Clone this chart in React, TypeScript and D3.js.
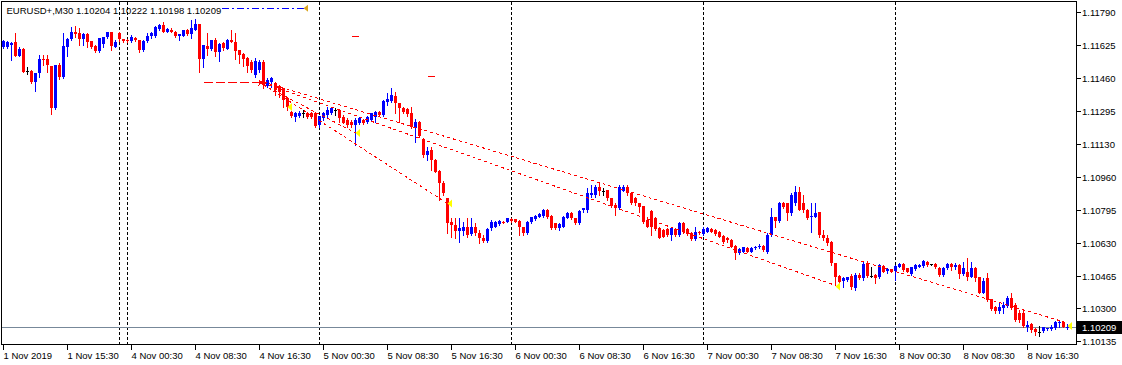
import React from "react";
import * as d3 from "d3";

// EURUSD+ M30, one value per bar (bar 0 = 1 Nov 07:30)
const opens = [
  1.11613, 1.11617, 1.11625, 1.11639, 1.11572, 1.11605, 1.11495, 1.11496, 1.11437, 1.11483,
  1.11555, 1.11555, 1.1152, 1.1131, 1.11525, 1.11463, 1.11617, 1.11654, 1.11689, 1.11684,
  1.11655, 1.11681, 1.11645, 1.1162, 1.11597, 1.11629, 1.11667, 1.11689, 1.11617, 1.11684,
  1.11655, 1.1165, 1.11647, 1.11659, 1.1165, 1.116, 1.11647, 1.11672, 1.11672, 1.11706,
  1.11726, 1.11692, 1.11701, 1.11692, 1.11672, 1.11672, 1.11701, 1.11681, 1.11701, 1.11731,
  1.11555, 1.11622, 1.11605, 1.1165, 1.11588, 1.11637, 1.11605, 1.1165, 1.11642, 1.116,
  1.11578, 1.1156, 1.1154, 1.11475, 1.115, 1.1154, 1.11419, 1.1144, 1.11435, 1.11419,
  1.11409, 1.11359, 1.11289, 1.11265, 1.1127, 1.11282, 1.11282, 1.11285, 1.11282, 1.11223,
  1.11257, 1.11273, 1.11282, 1.11299, 1.11299, 1.11265, 1.11248, 1.1124, 1.11223, 1.11232,
  1.11248, 1.1124, 1.11248, 1.11265, 1.1129, 1.11273, 1.1134, 1.11345, 1.11371, 1.11332,
  1.1131, 1.11302, 1.11285, 1.11207, 1.1124, 1.11153, 1.11072, 1.11097, 1.11047, 1.10993,
  1.10933, 1.10856, 1.10737, 1.1072, 1.10691, 1.10691, 1.10712, 1.10675, 1.10712, 1.10678,
  1.10653, 1.10641, 1.10703, 1.10712, 1.10725, 1.10737, 1.10737, 1.10748, 1.10748, 1.10742,
  1.10712, 1.10678, 1.10737, 1.1075, 1.10762, 1.10765, 1.10795, 1.10765, 1.10728, 1.10703,
  1.10712, 1.10757, 1.10782, 1.10753, 1.10728, 1.10795, 1.10795, 1.10871, 1.10871, 1.1091,
  1.10893, 1.10896, 1.10854, 1.10821, 1.10804, 1.10893, 1.1091, 1.10883, 1.10854, 1.10829,
  1.10816, 1.10745, 1.10792, 1.10754, 1.10704, 1.10695, 1.10699, 1.1067, 1.10699, 1.1067,
  1.10732, 1.10699, 1.10682, 1.10648, 1.10687, 1.10675, 1.10687, 1.10699, 1.10695, 1.10687,
  1.10665, 1.10653, 1.10645, 1.10615, 1.10581, 1.10586, 1.10603, 1.10586, 1.10603, 1.10608,
  1.10615, 1.10586, 1.1067, 1.10759, 1.10742, 1.10833, 1.10833, 1.10779, 1.10829, 1.10888,
  1.10829, 1.10796, 1.10759, 1.10762, 1.10787, 1.1067, 1.10653, 1.10636, 1.10527, 1.10464,
  1.1044, 1.10444, 1.10464, 1.10402, 1.10469, 1.10452, 1.10527, 1.10464, 1.10469, 1.1046,
  1.10516, 1.10491, 1.10497, 1.10491, 1.10511, 1.10524, 1.10502, 1.10474, 1.10497, 1.10511,
  1.10514, 1.10536, 1.10522, 1.10524, 1.10506, 1.10469, 1.10502, 1.10524, 1.10507, 1.10519,
  1.10474, 1.10486, 1.1046, 1.10506, 1.1046, 1.1038, 1.10452, 1.10346, 1.10306, 1.10289,
  1.10301, 1.10313, 1.10351, 1.10318, 1.10279, 1.10279, 1.10209, 1.10222, 1.10196, 1.10184,
  1.10189, 1.10196, 1.10196, 1.10201, 1.10226, 1.10234, 1.10204,
];
const highs = [
  1.1165, 1.11645, 1.11642, 1.11684, 1.11617, 1.11608, 1.11516, 1.115, 1.11485, 1.11575,
  1.11575, 1.11575, 1.11522, 1.11527, 1.11533, 1.11684, 1.11659, 1.11717, 1.11721, 1.11709,
  1.11684, 1.11684, 1.11645, 1.11625, 1.11659, 1.11667, 1.11692, 1.11692, 1.1165, 1.11689,
  1.11656, 1.11655, 1.11676, 1.11664, 1.1165, 1.1165, 1.11684, 1.11689, 1.11721, 1.11731,
  1.11743, 1.11709, 1.11709, 1.11696, 1.11681, 1.11701, 1.11706, 1.11751, 1.11755, 1.11731,
  1.11625, 1.11684, 1.1165, 1.11659, 1.11634, 1.11642, 1.11654, 1.11701, 1.11684, 1.116,
  1.11583, 1.11567, 1.1155, 1.1156, 1.1155, 1.1155, 1.1146, 1.11465, 1.1144, 1.11424,
  1.11409, 1.11364, 1.11294, 1.1129, 1.11295, 1.11299, 1.1129, 1.1129, 1.1129, 1.1127,
  1.1129, 1.11314, 1.11314, 1.11307, 1.11302, 1.11273, 1.11257, 1.11248, 1.11257, 1.11262,
  1.11252, 1.1127, 1.11285, 1.11294, 1.11294, 1.11349, 1.11382, 1.11407, 1.11391, 1.11332,
  1.11315, 1.1131, 1.11315, 1.11253, 1.11245, 1.1116, 1.11113, 1.11113, 1.1105, 1.10997,
  1.1094, 1.10856, 1.10756, 1.10753, 1.10753, 1.10737, 1.10753, 1.10753, 1.10728, 1.10695,
  1.1067, 1.10703, 1.10745, 1.1074, 1.10745, 1.10742, 1.10756, 1.10753, 1.1075, 1.10745,
  1.10712, 1.1074, 1.10762, 1.1077, 1.10778, 1.108, 1.108, 1.10768, 1.10732, 1.10728,
  1.10765, 1.10785, 1.10787, 1.10756, 1.10795, 1.10807, 1.10904, 1.10921, 1.10921, 1.1093,
  1.10905, 1.10896, 1.10854, 1.10829, 1.10922, 1.10922, 1.10922, 1.10888, 1.10863, 1.10829,
  1.10816, 1.10762, 1.10796, 1.10762, 1.10709, 1.10699, 1.10704, 1.10712, 1.10704, 1.10737,
  1.10737, 1.10704, 1.10687, 1.10712, 1.10692, 1.10712, 1.10709, 1.10704, 1.10699, 1.10692,
  1.1067, 1.10662, 1.10648, 1.1062, 1.10603, 1.10611, 1.10608, 1.10608, 1.10615, 1.10625,
  1.1062, 1.10678, 1.10804, 1.10762, 1.10838, 1.10838, 1.10833, 1.1088, 1.10917, 1.10913,
  1.10871, 1.10799, 1.10829, 1.10829, 1.10787, 1.10695, 1.1067, 1.10641, 1.10527, 1.10469,
  1.1046, 1.1046, 1.10474, 1.10477, 1.10477, 1.10536, 1.10541, 1.10511, 1.10474, 1.10524,
  1.1052, 1.10502, 1.105, 1.10519, 1.10528, 1.10527, 1.10505, 1.10511, 1.10522, 1.10524,
  1.10545, 1.1054, 1.10525, 1.10527, 1.10508, 1.10508, 1.10531, 1.10531, 1.10531, 1.10522,
  1.10536, 1.10553, 1.10536, 1.10511, 1.1046, 1.10452, 1.10477, 1.10346, 1.10313, 1.10335,
  1.10335, 1.10363, 1.10377, 1.10326, 1.10293, 1.10293, 1.10239, 1.10226, 1.10201, 1.10212,
  1.10209, 1.10204, 1.10217, 1.10237, 1.10239, 1.10237, 1.10222,
];
const lows = [
  1.11608, 1.11612, 1.1155, 1.1157, 1.1157, 1.11488, 1.11478, 1.11435, 1.11395, 1.11466,
  1.11525, 1.11491, 1.11278, 1.11305, 1.11455, 1.1146, 1.11572, 1.1165, 1.11667, 1.11625,
  1.11625, 1.11617, 1.11608, 1.11588, 1.11588, 1.11617, 1.11659, 1.116, 1.11617, 1.11647,
  1.11642, 1.1164, 1.11642, 1.11647, 1.11592, 1.11597, 1.11642, 1.11659, 1.11667, 1.11701,
  1.11689, 1.11689, 1.11689, 1.11667, 1.1165, 1.11672, 1.11676, 1.11659, 1.11701, 1.11491,
  1.11516, 1.11575, 1.116, 1.1157, 1.11546, 1.116, 1.11605, 1.11642, 1.11555, 1.11533,
  1.11521, 1.11491, 1.1149, 1.11465, 1.1149, 1.11409, 1.11414, 1.11414, 1.11374, 1.11364,
  1.11314, 1.11299, 1.11263, 1.11245, 1.11265, 1.11265, 1.1126, 1.11258, 1.11215, 1.11213,
  1.11248, 1.11265, 1.11278, 1.11273, 1.1124, 1.11232, 1.11215, 1.11215, 1.11123, 1.11228,
  1.11228, 1.11235, 1.11245, 1.1124, 1.11268, 1.11268, 1.11324, 1.1134, 1.11282, 1.1124,
  1.11282, 1.11268, 1.11206, 1.11139, 1.11165, 1.11064, 1.11047, 1.10997, 1.10985, 1.10846,
  1.10871, 1.10681, 1.10661, 1.10653, 1.10636, 1.1067, 1.10661, 1.1067, 1.1067, 1.10631,
  1.10636, 1.10636, 1.10695, 1.10708, 1.1072, 1.10728, 1.10733, 1.10737, 1.10733, 1.1067,
  1.1067, 1.10675, 1.10732, 1.10745, 1.1076, 1.10762, 1.10755, 1.107, 1.107, 1.10695,
  1.10708, 1.10753, 1.1075, 1.10725, 1.10725, 1.10787, 1.10787, 1.10862, 1.10862, 1.10871,
  1.10871, 1.10846, 1.10813, 1.10771, 1.10799, 1.10893, 1.10871, 1.10826, 1.10821, 1.10787,
  1.10732, 1.10709, 1.1067, 1.10695, 1.10653, 1.10658, 1.10665, 1.10645, 1.10665, 1.10665,
  1.10678, 1.1067, 1.10645, 1.10645, 1.10675, 1.1067, 1.10683, 1.10683, 1.1067, 1.10658,
  1.10632, 1.10636, 1.10608, 1.10548, 1.10576, 1.10583, 1.10583, 1.10583, 1.10598, 1.10603,
  1.1059, 1.10581, 1.10665, 1.10712, 1.10737, 1.10804, 1.10745, 1.10771, 1.10821, 1.10796,
  1.10787, 1.1075, 1.10687, 1.10762, 1.10662, 1.10645, 1.1062, 1.10519, 1.10418, 1.1043,
  1.1041, 1.1044, 1.10398, 1.10393, 1.1045, 1.10444, 1.1046, 1.1046, 1.10427, 1.10455,
  1.10482, 1.10477, 1.10482, 1.10444, 1.10508, 1.1049, 1.10482, 1.10469, 1.10494, 1.10508,
  1.10511, 1.10516, 1.10519, 1.10504, 1.10466, 1.10466, 1.10497, 1.10494, 1.10497, 1.10452,
  1.10469, 1.10444, 1.10457, 1.1044, 1.10377, 1.10377, 1.1034, 1.10293, 1.10279, 1.10279,
  1.10279, 1.10309, 1.10296, 1.10239, 1.10234, 1.10209, 1.10189, 1.10184, 1.10167, 1.10164,
  1.10184, 1.10192, 1.10192, 1.10198, 1.10206, 1.10206, 1.10198,
];
const closes = [
  1.11645, 1.1164, 1.11637, 1.11572, 1.11605, 1.11491, 1.11495, 1.11437, 1.11483, 1.11555,
  1.1155, 1.11525, 1.1131, 1.11525, 1.11463, 1.11622, 1.11655, 1.11689, 1.1168, 1.11655,
  1.11681, 1.11642, 1.11617, 1.11597, 1.11659, 1.11667, 1.11689, 1.11622, 1.11639, 1.11655,
  1.11647, 1.11646, 1.11664, 1.1165, 1.116, 1.11647, 1.11672, 1.11684, 1.11717, 1.11726,
  1.11692, 1.11706, 1.11692, 1.11672, 1.11681, 1.11701, 1.11681, 1.11709, 1.11731, 1.11555,
  1.11625, 1.11605, 1.1165, 1.11588, 1.1163, 1.11608, 1.1165, 1.11642, 1.11597, 1.11575,
  1.11555, 1.11521, 1.115, 1.11545, 1.1154, 1.11424, 1.1145, 1.1146, 1.11399, 1.11389,
  1.11349, 1.11314, 1.11268, 1.11285, 1.11285, 1.11282, 1.11265, 1.11262, 1.11218, 1.11268,
  1.11282, 1.11299, 1.11307, 1.11299, 1.11257, 1.11235, 1.11223, 1.11223, 1.11248, 1.11257,
  1.11232, 1.11265, 1.11282, 1.1129, 1.11273, 1.11345, 1.11352, 1.11374, 1.11332, 1.11307,
  1.1129, 1.11278, 1.11215, 1.1124, 1.11168, 1.11072, 1.11094, 1.11047, 1.10988, 1.1093,
  1.1088, 1.1073, 1.1072, 1.10691, 1.10703, 1.10712, 1.1067, 1.10712, 1.10678, 1.10653,
  1.10641, 1.107, 1.10737, 1.10737, 1.10742, 1.10732, 1.10753, 1.1074, 1.10737, 1.10712,
  1.10678, 1.10737, 1.10758, 1.10765, 1.10775, 1.10795, 1.10758, 1.10703, 1.10703, 1.10725,
  1.10762, 1.10782, 1.10753, 1.10728, 1.10792, 1.10804, 1.10879, 1.10883, 1.10913, 1.10893,
  1.10893, 1.10854, 1.10816, 1.10804, 1.10913, 1.1091, 1.1088, 1.10829, 1.10829, 1.10809,
  1.10737, 1.10712, 1.10712, 1.10699, 1.10653, 1.10662, 1.1067, 1.10704, 1.1067, 1.10729,
  1.10687, 1.10675, 1.10648, 1.10687, 1.10678, 1.10699, 1.10704, 1.10687, 1.10675, 1.10662,
  1.10636, 1.10645, 1.10611, 1.10581, 1.10598, 1.10608, 1.10586, 1.10603, 1.10611, 1.10615,
  1.10594, 1.1067, 1.10762, 1.10742, 1.10833, 1.10813, 1.10779, 1.10871, 1.10888, 1.10796,
  1.10796, 1.10754, 1.10766, 1.10782, 1.1067, 1.10653, 1.10628, 1.10527, 1.1046, 1.10435,
  1.10452, 1.10457, 1.1041, 1.10469, 1.10452, 1.10524, 1.10464, 1.10464, 1.10452, 1.10519,
  1.10486, 1.10497, 1.10486, 1.10514, 1.10524, 1.10494, 1.10486, 1.10507, 1.10519, 1.10519,
  1.10541, 1.10519, 1.10522, 1.10507, 1.10469, 1.10506, 1.10524, 1.10511, 1.10519, 1.10474,
  1.10502, 1.1046, 1.10502, 1.10452, 1.1038, 1.10439, 1.10343, 1.10296, 1.10289, 1.10306,
  1.10318, 1.10351, 1.10301, 1.10242, 1.10242, 1.10212, 1.10217, 1.10192, 1.1018, 1.10184,
  1.10206, 1.10201, 1.10209, 1.10234, 1.10234, 1.10209, 1.10209,
];

const priceLabels = [
  "1.11790", "1.11625", "1.11460", "1.11295", "1.11130", "1.10960",
  "1.10795", "1.10630", "1.10465", "1.10300", "1.10135",
];
const timeLabels = [
  "1 Nov 2019", "1 Nov 15:30", "4 Nov 00:30", "4 Nov 08:30", "4 Nov 16:30",
  "5 Nov 00:30", "5 Nov 08:30", "5 Nov 16:30", "6 Nov 00:30", "6 Nov 08:30",
  "6 Nov 16:30", "7 Nov 00:30", "7 Nov 08:30", "7 Nov 16:30", "8 Nov 00:30",
  "8 Nov 08:30", "8 Nov 16:30",
];
const timeLabelBars = [0, 16, 32, 48, 64, 80, 96, 112, 128, 144, 160, 176, 192, 208, 224, 240, 256];
const daySeparatorBars = [29, 31, 79, 127, 175, 223];

// drawn objects: [bar, price]
const trendLines = [
  [[65, 1.11439], [266, 1.10227]],
  [[65, 1.11434], [208, 1.10416]],
  [[65, 1.11427], [111, 1.10828]],
  [[65, 1.11424], [88, 1.11183]],
];
const yellowMarks = [[71, 1.11314], [88, 1.11183], [111, 1.10828], [208, 1.10411], [266, 1.10212]];
const redDashes = [[88, 1.11671], [107, 1.1147]];
const arrowLine = [[50, 1.11439], [65, 1.11439]];
const blueLine = [[54.5, 1.1181], [75, 1.1181]];
const title = "EURUSD+,M30  1.10204 1.10222 1.10198 1.10209";

const W = 1122;
const H = 365;
const plot = { left: 1.5, top: 1.5, right: 1076.5, bottom: 344.5 };
const font = "'Liberation Sans', Arial, sans-serif";
const fs = 9.5;

export default function App() {
  const x = d3.scaleLinear().domain([0, 1]).range([3.5, 7.5]);
  const lo = +priceLabels[priceLabels.length - 1];
  const hi = +priceLabels[0];
  const y = d3.scaleLinear().domain([lo, hi]).range([341.3, 12.3]);
  const tickStep = (hi - lo) / (priceLabels.length - 1);
  const last = closes[closes.length - 1];
  const lineGen = d3.line<number[]>().x((d) => x(d[0])).y((d) => y(d[1]));

  const candles = closes.map((c, i) => {
    const o = opens[i];
    const cx = x(i);
    const color = o === c ? "#000000" : c > o ? "#0000FF" : "#FF0000";
    const top = Math.round(y(Math.max(o, c)));
    const bot = Math.round(y(Math.min(o, c)));
    return (
      <g key={i}>
        <line x1={cx} x2={cx} y1={Math.round(y(highs[i]))} y2={Math.round(y(lows[i])) + 1} stroke={color} />
        <rect x={cx - 1.5} y={top} width={3} height={Math.max(1, bot - top)} fill={color} />
      </g>
    );
  });

  const ay = Math.round(y(arrowLine[1][1])) + 0.5;
  const ax = x(arrowLine[1][0]);

  return (
    <div style={{ position: "fixed", left: 0, top: 0 }}>
      <svg width={W} height={H} style={{ display: "block", background: "#fff" }} fontFamily={font} fontSize={fs}>
        <defs>
          <clipPath id="plot">
            <rect x={plot.left} y={plot.top} width={plot.right - plot.left} height={plot.bottom - plot.top} />
          </clipPath>
        </defs>
        <g clipPath="url(#plot)" shapeRendering="crispEdges">
          {daySeparatorBars.map((b) => (
            <line key={b} x1={x(b) - 0.0} x2={x(b)} y1={plot.top} y2={plot.bottom} stroke="#000" strokeDasharray="3 2" />
          ))}
          <line x1={plot.left} x2={plot.right} y1={Math.round(y(last)) + 0.5} y2={Math.round(y(last)) + 0.5} stroke="#778899" />
          {candles}
          {trendLines.map((l, i) => (
            <path key={i} d={lineGen(l) || ""} fill="none" stroke="#FF0000" strokeDasharray="3 3" />
          ))}
          <line x1={x(arrowLine[0][0])} x2={ax - 3} y1={ay} y2={ay} stroke="#FF0000" strokeDasharray="9 3" />
          <path d={`M${ax},${ay} L${ax - 5},${ay - 3} L${ax - 5},${ay + 3} Z`} fill="#FF0000" />
          {redDashes.map((d, i) => (
            <rect key={i} x={x(d[0]) - 3.5} y={Math.round(y(d[1])) - 0.5} width={7} height={1.5} fill="#FF0000" />
          ))}
          {yellowMarks.map((d, i) => {
            const mx = x(d[0]);
            const my = y(d[1]);
            return <path key={i} d={`M${mx},${my} L${mx + 4.5},${my - 4} L${mx + 4.5},${my + 4} Z`} fill="#FFFF00" shapeRendering="auto" />;
          })}
          <line x1={x(blueLine[0][0])} x2={x(blueLine[1][0])} y1={Math.round(y(blueLine[0][1])) + 0.5} y2={Math.round(y(blueLine[1][1])) + 0.5} stroke="#0000FF" strokeDasharray="7 3 2 3" />
          <path
            d={`M${x(blueLine[1][0])},${y(blueLine[1][1])} L${x(blueLine[1][0]) + 4.5},${y(blueLine[1][1]) - 3.5} L${x(blueLine[1][0]) + 4.5},${y(blueLine[1][1]) + 3.5} Z`}
            fill="#DAA520"
            shapeRendering="auto"
          />
        </g>
        <text x={6.5} y={13.5} fill="#000">{title}</text>
        <rect x={plot.left} y={plot.top} width={plot.right - plot.left} height={plot.bottom - plot.top} fill="none" stroke="#000" shapeRendering="crispEdges" />
        {priceLabels.map((t, k) => {
          const ty = Math.round(y(hi - k * tickStep)) + 0.5;
          return (
            <g key={t}>
              <line x1={plot.right} x2={plot.right + 4} y1={ty} y2={ty} stroke="#000" shapeRendering="crispEdges" />
              <text x={1082} y={ty + 3} fill="#000">{t}</text>
            </g>
          );
        })}
        <rect x={1077} y={Math.round(y(last)) - 6} width={45} height={13} fill="#000" />
        <text x={1082} y={Math.round(y(last)) + 3.5} fill="#fff">{last.toFixed(5)}</text>
        {timeLabels.map((t, k) => {
          const tx = x(timeLabelBars[k]);
          return (
            <g key={t}>
              <line x1={tx} x2={tx} y1={plot.bottom} y2={plot.bottom + 5} stroke="#000" shapeRendering="crispEdges" />
              <text x={tx} y={359} fill="#000">{t}</text>
            </g>
          );
        })}
      </svg>
    </div>
  );
}
